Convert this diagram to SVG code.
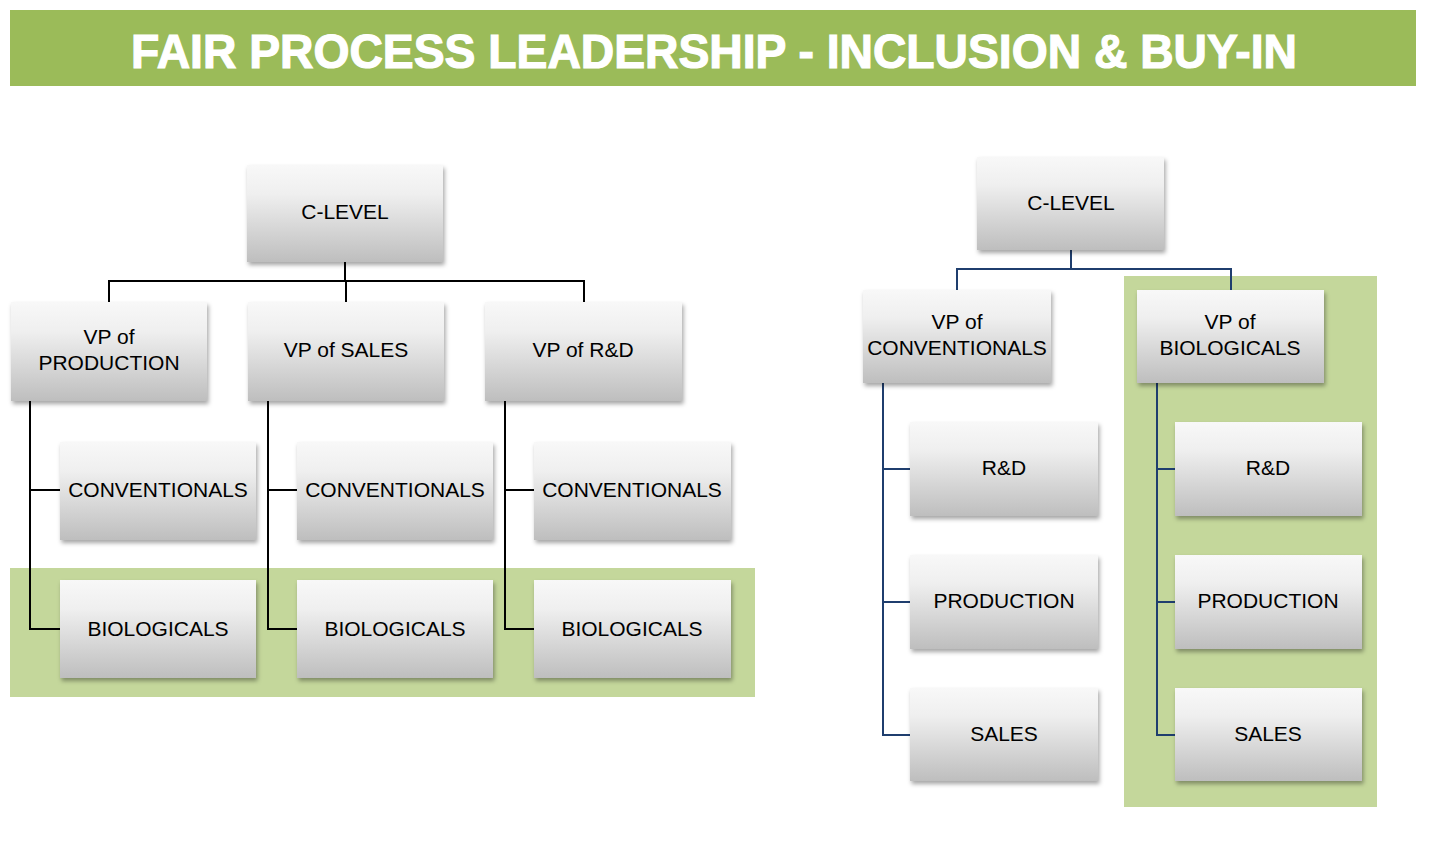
<svg xmlns="http://www.w3.org/2000/svg" width="1434" height="866" viewBox="0 0 1434 866">
<defs>
<linearGradient id="g" x1="0" y1="0" x2="0" y2="1">
<stop offset="0" stop-color="#F8F8F8"/>
<stop offset="0.3" stop-color="#EFEFEF"/>
<stop offset="1" stop-color="#BEBEBE"/>
</linearGradient>
<filter id="sh" x="-10%" y="-10%" width="125%" height="130%">
<feDropShadow dx="1.5" dy="3" stdDeviation="2" flood-color="#000" flood-opacity="0.35"/>
</filter>
<style>
.box{fill:url(#g);filter:url(#sh)}
.t{font-family:"Liberation Sans",Arial,sans-serif;font-size:21px;fill:#000;text-anchor:middle}
.k{fill:none;stroke:#000;stroke-width:2}
.b{fill:none;stroke:#1F3E6E;stroke-width:2}
.bg{fill:#C4D79B}
</style>
</defs>
<rect x="10" y="10" width="1406" height="76" fill="#9BBB59"/>
<text x="714" y="68" font-family="'Liberation Sans',Arial,sans-serif" font-weight="bold" font-size="48" fill="#fff" stroke="#fff" stroke-width="1.2" text-anchor="middle" textLength="1166" lengthAdjust="spacingAndGlyphs">FAIR PROCESS LEADERSHIP - INCLUSION &amp; BUY-IN</text>
<rect class="bg" x="10" y="568" width="745" height="129"/>
<rect class="bg" x="1124" y="276" width="253" height="531"/>
<g id="connectors">
<path class="k" d="M345 262V281M109 302V281H584V302M346 281V302"/>
<path class="k" d="M30 401V629H60M30 490H60"/>
<path class="k" d="M268 401V629H297M268 490H297"/>
<path class="k" d="M505 401V629H534M505 490H534"/>
<path class="b" d="M1071 250V269M957 290V269H1231V290"/>
<path class="b" d="M883 383V735H910M883 469H910M883 602H910"/>
<path class="b" d="M1157 383V735H1175M1157 469H1175M1157 602H1175"/>
</g>
<g id="l-clevel"><rect class="box" x="247" y="165" width="196" height="97"/><text class="t" x="345" y="219">C-LEVEL</text></g>
<g id="l-vp-prod"><rect class="box" x="11" y="302" width="196" height="99"/><text class="t" x="109" y="344">VP of</text><text class="t" x="109" y="370">PRODUCTION</text></g>
<g id="l-vp-sales"><rect class="box" x="248" y="302" width="196" height="99"/><text class="t" x="346" y="357">VP of SALES</text></g>
<g id="l-vp-rd"><rect class="box" x="485" y="302" width="197" height="99"/><text class="t" x="583" y="357">VP of R&amp;D</text></g>
<g id="l-conv1"><rect class="box" x="60" y="442" width="196" height="98"/><text class="t" x="158" y="497">CONVENTIONALS</text></g>
<g id="l-conv2"><rect class="box" x="297" y="442" width="196" height="98"/><text class="t" x="395" y="497">CONVENTIONALS</text></g>
<g id="l-conv3"><rect class="box" x="534" y="442" width="197" height="98"/><text class="t" x="632" y="497">CONVENTIONALS</text></g>
<g id="l-bio1"><rect class="box" x="60" y="580" width="196" height="98"/><text class="t" x="158" y="636">BIOLOGICALS</text></g>
<g id="l-bio2"><rect class="box" x="297" y="580" width="196" height="98"/><text class="t" x="395" y="636">BIOLOGICALS</text></g>
<g id="l-bio3"><rect class="box" x="534" y="580" width="197" height="98"/><text class="t" x="632" y="636">BIOLOGICALS</text></g>
<g id="r-clevel"><rect class="box" x="977" y="157" width="187" height="93"/><text class="t" x="1071" y="210">C-LEVEL</text></g>
<g id="r-vp-conv"><rect class="box" x="863" y="290" width="188" height="93"/><text class="t" x="957" y="329">VP of</text><text class="t" x="957" y="355">CONVENTIONALS</text></g>
<g id="r-vp-bio"><rect class="box" x="1137" y="290" width="187" height="93"/><text class="t" x="1230" y="329">VP of</text><text class="t" x="1230" y="355">BIOLOGICALS</text></g>
<g id="r-c-rd"><rect class="box" x="910" y="422" width="188" height="94"/><text class="t" x="1004" y="475">R&amp;D</text></g>
<g id="r-c-prod"><rect class="box" x="910" y="555" width="188" height="94"/><text class="t" x="1004" y="608">PRODUCTION</text></g>
<g id="r-c-sales"><rect class="box" x="910" y="688" width="188" height="93"/><text class="t" x="1004" y="741">SALES</text></g>
<g id="r-b-rd"><rect class="box" x="1175" y="422" width="187" height="94"/><text class="t" x="1268" y="475">R&amp;D</text></g>
<g id="r-b-prod"><rect class="box" x="1175" y="555" width="187" height="94"/><text class="t" x="1268" y="608">PRODUCTION</text></g>
<g id="r-b-sales"><rect class="box" x="1175" y="688" width="187" height="93"/><text class="t" x="1268" y="741">SALES</text></g>
</svg>
